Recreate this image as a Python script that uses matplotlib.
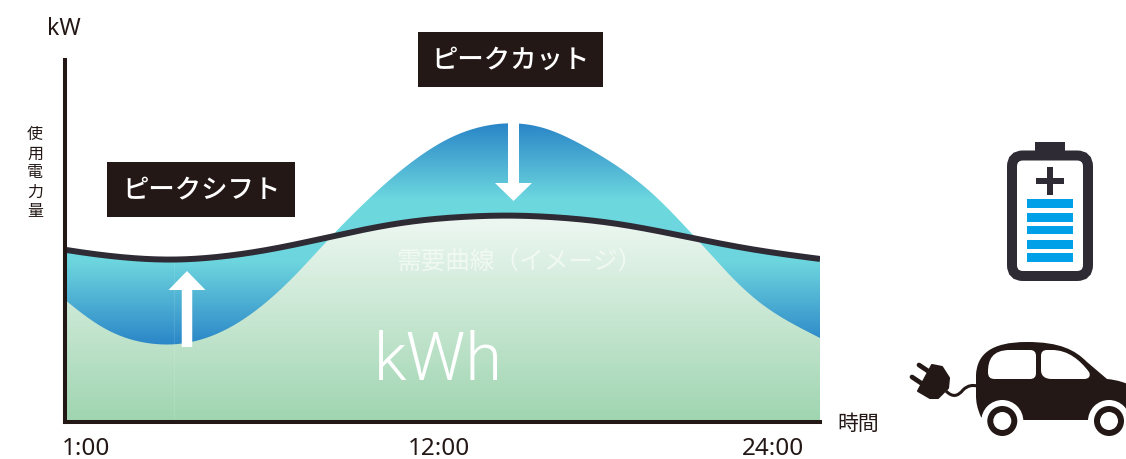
import numpy as np
import matplotlib
matplotlib.use("Agg")
import matplotlib.pyplot as plt
from matplotlib.colors import to_rgb
from matplotlib.path import Path
from matplotlib.patches import PathPatch, Rectangle, Circle, FancyBboxPatch, FancyArrow

plt.rcParams["font.family"] = ["Noto Sans CJK JP", "DejaVu Sans"]

W, H = 1126, 460

# hour of day / kW (arbitrary units)
demand_h = [1.0, 2.07, 4.35, 6.64, 8.16, 9.17, 10.69, 11.81, 14.55, 17.29, 18.51, 20.12, 21.55, 22.78, 24.0]
demand_kw = [172, 166, 160, 168, 178, 186, 197, 203, 208, 202, 195, 184, 174, 168, 163]
shifted_h = [1.0, 1.97, 2.98, 4.29, 5.2, 6.02, 7.03, 8.07, 9.17, 9.99, 10.9, 11.81, 12.63,
             13.64, 14.64, 15.68, 16.68, 17.69, 18.87, 19.51, 20.09, 20.64, 21.26, 21.96, 22.78, 24.0]
shifted_kw = [122, 95, 80, 75, 81, 92, 115, 147, 189, 215, 244, 267, 285,
              297, 301, 296, 279, 260, 232, 209, 189, 169, 145, 122, 104, 84]

tick_pos = [1.64, 12.38, 22.58]
tick_labels = ["1:00", "12:00", "24:00"]

# battery charge bars, top/bottom in pixels
battery_bars = [(199, 208), (213, 222), (226, 234), (240, 249), (253, 262)]

DARK = "#231815"
LINE = "#2e2b35"


def smooth(xs, ys, xq, sigma):
    # rounds off the read points for drawing, ends carried on along their slope
    xs = np.asarray(xs, float)
    ys = np.asarray(ys, float)
    step = xq[1] - xq[0]
    n = int(4 * sigma / step)
    left = xq[0] - step * np.arange(n, 0, -1)
    right = xq[-1] + step * np.arange(1, n + 1)
    y = np.interp(xq, xs, ys)
    y_left = ys[0] + (left - xs[0]) * (ys[1] - ys[0]) / (xs[1] - xs[0])
    y_right = ys[-1] + (right - xs[-1]) * (ys[-1] - ys[-2]) / (xs[-1] - xs[-2])
    kernel = np.exp(-0.5 * (np.arange(-n, n + 1) * step / sigma) ** 2)
    return np.convolve(np.r_[y_left, y, y_right], kernel / kernel.sum(), mode="valid")


def gradient(stops, n=400, top=362):
    v = np.linspace(top, 0, n)
    pos = [s[0] for s in stops]
    cols = np.array([to_rgb(s[1]) for s in stops])
    rgb = np.stack([np.interp(v, pos, cols[:, k]) for k in range(3)], axis=1)
    return rgb[:, None, :]


def area_path(x, y):
    verts = np.column_stack([np.r_[x[0], x, x[-1]], np.r_[0, y, 0]])
    return Path(verts)


def px_path(ax, cmds, **kw):
    verts, codes = [], []
    for c, pts in cmds:
        verts += pts
        codes += {"M": [Path.MOVETO], "L": [Path.LINETO],
                  "C": [Path.CURVE4] * 3, "Z": [Path.CLOSEPOLY]}[c]
    p = PathPatch(Path(verts, codes), **kw)
    ax.add_patch(p)
    return p


fig = plt.figure(figsize=(W / 100, H / 100), dpi=100)
ax = fig.add_axes([65 / W, 1 - 423 / H, (820 - 65) / W, (423 - 61) / H])
ax.set_xlim(1, 24)
ax.set_ylim(0, 362)

xq = np.linspace(1, 24, 1500)
d = smooth(demand_h, demand_kw, xq, 1.0)
s = smooth(shifted_h, shifted_kw, xq, 0.6)

blue = gradient([(0, "#2a85c7"), (76, "#2a85c7"), (160, "#6dd5de"),
                 (222, "#6dd8df"), (299, "#2a85c7"), (362, "#2a85c7")])
green = gradient([(0, "#9fd5b0"), (208, "#eff8f3"), (362, "#eff8f3")])

im = ax.imshow(blue, extent=[1, 24, 0, 362], aspect="auto", zorder=1)
im.set_clip_path(PathPatch(area_path(xq, np.maximum(d, s)), transform=ax.transData))
im = ax.imshow(green, extent=[1, 24, 0, 362], aspect="auto", zorder=2)
im.set_clip_path(PathPatch(area_path(xq, np.minimum(d, s)), transform=ax.transData))

# faint seam in the artwork
ax.plot([4.32, 4.32], [0, 160], color="white", lw=0.6, alpha=0.12, zorder=3)
ax.plot(xq, d, color=LINE, lw=4.3, zorder=4, solid_capstyle="butt")

for side in ["top", "right"]:
    ax.spines[side].set_visible(False)
for side in ["left", "bottom"]:
    ax.spines[side].set_linewidth(2.9)
    ax.spines[side].set_color(DARK)
    ax.spines[side].set_zorder(5)
ax.set_yticks([])
ax.set_xticks(tick_pos, tick_labels, fontsize=17.5, color="#231815",
              family=["Noto Sans", "DejaVu Sans"])
ax.tick_params(axis="x", length=0, pad=10)

# overlay in pixel coordinates for labels and icons
ov = fig.add_axes([0, 0, 1, 1], zorder=10)
ov.set_xlim(0, W)
ov.set_ylim(H - 1, -1)
ov.axis("off")
ov.patch.set_alpha(0)

ov.text(64, 28, "kW", fontsize=16.5, ha="center", va="center", color=DARK,
        family=["Noto Sans", "DejaVu Sans"])
ov.text(35, 172, "使\n用\n電\n力\n量", fontsize=11.5, ha="center", va="center",
        color=DARK, linespacing=1.16)
ov.text(858, 423, "時間", fontsize=15, ha="center", va="center", color=DARK)

ov.add_patch(Rectangle((418, 32), 185, 55, color=DARK, lw=0))
ov.text(511, 59, "ピークカット", fontsize=19, color="white", ha="center", va="center",
        fontweight="medium")
ov.add_patch(Rectangle((107, 162), 188, 55, color=DARK, lw=0))
ov.text(202, 189, "ピークシフト", fontsize=19, color="white", ha="center", va="center",
        fontweight="medium")

ov.text(519, 261, "需要曲線（イメージ）", fontsize=17.7, color="white", alpha=0.6,
        ha="center", va="center")
ov.text(438, 361, "kWh", fontsize=48, color="white", ha="center", va="center",
        family=["Roboto", "DejaVu Sans"], fontweight=300)

ov.add_patch(FancyArrow(187, 347, 0, -76, width=10.5, head_width=37, head_length=19,
                        length_includes_head=True, color="white", lw=0))
ov.add_patch(FancyArrow(513.5, 123, 0, 78, width=11, head_width=37, head_length=18,
                        length_includes_head=True, color="white", lw=0))

# battery
ov.add_patch(Rectangle((1035, 142), 30, 10, color=LINE, lw=0))
ov.add_patch(FancyBboxPatch((1012, 155.5), 76, 120.5, boxstyle="round,pad=0,rounding_size=11",
                            fc="white", ec=LINE, lw=7.2))
ov.add_patch(Rectangle((1036, 178), 28, 6, color=LINE, lw=0))
ov.add_patch(Rectangle((1047, 167), 6, 28, color=LINE, lw=0))
for top, bottom in battery_bars:
    ov.add_patch(Rectangle((1027, top), 46, bottom - top, color="#00a0e9", lw=0))

# car
px_path(ov, [("M", [(976, 375)]),
             ("C", [(977, 355), (990, 342), (1027, 342)]),
             ("C", [(1060, 342), (1075, 350), (1087, 362)]),
             ("L", [(1107, 379)]),
             ("C", [(1118, 380), (1126, 383), (1132, 386)]),
             ("L", [(1132, 420)]), ("L", [(985, 420)]), ("L", [(981, 417)]),
             ("C", [(977, 408), (976, 402), (976, 395)]),
             ("Z", [(976, 375)])], fc=DARK, ec="none")
px_path(ov, [("M", [(988, 372)]),
             ("C", [(988, 360), (992, 350), (1010, 350)]),
             ("L", [(1030, 350)]),
             ("C", [(1034, 350), (1036, 352), (1036, 356)]),
             ("L", [(1036, 373)]),
             ("C", [(1036, 377), (1034, 379), (1030, 379)]),
             ("L", [(995, 379)]),
             ("C", [(990, 379), (988, 377), (988, 372)]),
             ("Z", [(988, 372)])], fc="white", ec="none")
px_path(ov, [("M", [(1041, 356)]),
             ("C", [(1041, 352), (1043, 350), (1047, 350)]),
             ("L", [(1052, 350)]),
             ("C", [(1068, 350), (1080, 360), (1089, 372)]),
             ("C", [(1091, 376), (1089, 379), (1084, 379)]),
             ("L", [(1052, 379)]),
             ("C", [(1045, 379), (1041, 376), (1041, 370)]),
             ("Z", [(1041, 356)])], fc="white", ec="none")
for cx in (1002.3, 1109):
    ov.add_patch(Circle((cx, 421), 21, fc="white", ec="none"))
    ov.add_patch(Circle((cx, 421), 15, fc=DARK, ec="none"))
    ov.add_patch(Circle((cx, 421), 9, fc="white", ec="none"))

# plug and cable
ov.add_patch(plt.Polygon([(932, 365), (942, 367), (949, 378), (948, 388), (938, 398),
                          (930, 398), (918, 391)], closed=True, fc=DARK, ec=DARK, lw=1.5,
                         joinstyle="round"))
ov.plot([919, 928], [365, 371], color=DARK, lw=3.4, solid_capstyle="round")
ov.plot([912, 921], [377, 383], color=DARK, lw=3.4, solid_capstyle="round")
px_path(ov, [("M", [(946, 391)]),
             ("C", [(953, 398), (958, 396), (963, 390)]),
             ("C", [(968, 385), (973, 385), (977, 386)])],
        fc="none", ec=DARK, lw=2.2)

fig.savefig("out.png", dpi=100)
